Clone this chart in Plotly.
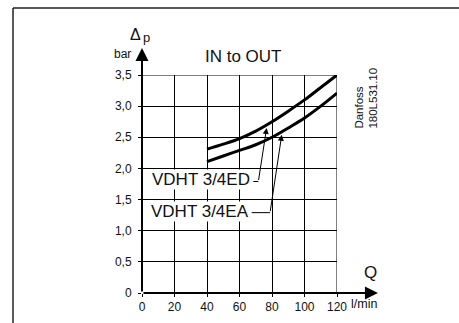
import plotly.graph_objects as go

# Data
q_flow = [40, 50, 60, 70, 80, 90, 100, 110, 120]
dp_ed = [2.31, 2.39, 2.48, 2.60, 2.75, 2.92, 3.10, 3.30, 3.50]
dp_ea = [2.11, 2.20, 2.29, 2.38, 2.50, 2.65, 2.81, 3.00, 3.21]
x_ticks = [0, 20, 40, 60, 80, 100, 120]
y_ticks = [0, 0.5, 1.0, 1.5, 2.0, 2.5, 3.0, 3.5]
y_labels = ["0", "0,5", "1,0", "1,5", "2,0", "2,5", "3,0", "3,5"]

FONT = "Liberation Sans, Arial, sans-serif"

fig = go.Figure()
fig.add_trace(go.Scatter(x=q_flow, y=dp_ed, mode="lines", line=dict(color="black", width=3, shape="spline"),
                         showlegend=False, hoverinfo="skip"))
fig.add_trace(go.Scatter(x=q_flow, y=dp_ea, mode="lines", line=dict(color="black", width=3, shape="spline"),
                         showlegend=False, hoverinfo="skip"))

fig.update_layout(
    width=459, height=323, autosize=False,
    margin=dict(l=142, r=122, t=75, b=30, autoexpand=False),
    paper_bgcolor="white", plot_bgcolor="white",
    font=dict(family=FONT, color="#111", size=12),
    xaxis=dict(range=[0, 120], tickvals=x_ticks, ticktext=[str(v) for v in x_ticks],
               showgrid=True, gridcolor="black", gridwidth=1, zeroline=False, automargin=False,
               ticks="outside", ticklen=3, tickcolor="black", showline=False,
               tickfont=dict(size=12, family=FONT), fixedrange=True),
    yaxis=dict(range=[0, 3.5], tickvals=y_ticks, ticktext=y_labels,
               showgrid=True, gridcolor="black", gridwidth=1, zeroline=False, automargin=False,
               ticks="outside", ticklen=3, tickcolor="black", showline=False, ticklabelstandoff=4,
               tickfont=dict(size=12, family=FONT), fixedrange=True),
)

# Border lines at top/right of grid
fig.add_shape(type="line", xref="x", yref="y", x0=0, x1=120, y0=3.5, y1=3.5, line=dict(color="black", width=1))
fig.add_shape(type="line", xref="x", yref="y", x0=120, x1=120, y0=0, y1=3.5, line=dict(color="black", width=1))

# Outer frame (cut by page)
fig.add_shape(type="line", xref="paper", yref="paper", x0=-0.6615, x1=-0.6615, y0=-0.3, y1=1.307,
              line=dict(color="#222", width=1.5))
fig.add_shape(type="line", xref="paper", yref="paper", x0=-0.6615, x1=1.8, y0=1.307, y1=1.307,
              line=dict(color="#222", width=1.5))

# Axis arrows
fig.add_annotation(xref="paper", yref="paper", x=0, y=1.124, ax=0, ay=245, axref="pixel", ayref="pixel",
                   showarrow=True, arrowhead=2, arrowsize=1.3, arrowwidth=2, arrowcolor="black", text="")
fig.add_annotation(xref="paper", yref="paper", x=1.21, y=0, ax=-236, ay=0, axref="pixel", ayref="pixel",
                   showarrow=True, arrowhead=2, arrowsize=1.3, arrowwidth=2, arrowcolor="black", text="")

# Texts
fig.add_annotation(xref="paper", yref="paper", x=-0.072, y=1.186, text="Δ", showarrow=False,
                   font=dict(size=16, family=FONT), xanchor="left", yanchor="middle")
fig.add_annotation(xref="paper", yref="paper", x=-0.004, y=1.172, text="p", showarrow=False,
                   font=dict(size=13, family=FONT), xanchor="left", yanchor="middle")
fig.add_annotation(xref="paper", yref="paper", x=-0.048, y=1.095, text="bar", showarrow=False,
                   font=dict(size=12, family=FONT), xanchor="right", yanchor="middle")
fig.add_annotation(xref="paper", yref="paper", x=0.518, y=1.087, text="IN to OUT", showarrow=False,
                   font=dict(size=17, family=FONT), xanchor="center", yanchor="middle")
fig.add_annotation(xref="paper", yref="paper", x=1.17, y=0.093, text="Q", showarrow=False,
                   font=dict(size=17, family=FONT), xanchor="center", yanchor="middle")
fig.add_annotation(xref="paper", yref="paper", x=1.062, y=-0.052, text="l/min", showarrow=False,
                   font=dict(size=12.5, family=FONT), xanchor="left", yanchor="middle")
fig.add_annotation(xref="paper", yref="paper", x=1.149, y=0.892, text="Danfoss<br>180L531.10", showarrow=False,
                   textangle=-90, align="left",
                   font=dict(size=11.5, family=FONT), xanchor="center", yanchor="middle")

# Curve labels
fig.add_annotation(xref="x", yref="y", x=5.5, y=1.82, text="VDHT 3/4ED", showarrow=False,
                   font=dict(size=17, family=FONT), xanchor="left", yanchor="middle", bgcolor="white",
                   borderpad=0)
fig.add_annotation(xref="x", yref="y", x=5.0, y=1.31, text="VDHT 3/4EA", showarrow=False,
                   font=dict(size=17, family=FONT), xanchor="left", yanchor="middle", bgcolor="white",
                   borderpad=0)

# Leader lines
fig.add_shape(type="line", xref="x", yref="y", x0=68.5, x1=71.6, y0=1.79, y1=1.79, line=dict(color="black", width=1))
fig.add_annotation(xref="x", yref="y", x=76.7, y=2.65, ax=71.6, ay=1.79, axref="x", ayref="y",
                   showarrow=True, arrowhead=2, arrowsize=1.2, arrowwidth=1, arrowcolor="black", text="")
fig.add_shape(type="line", xref="x", yref="y", x0=67.5, x1=78.8, y0=1.29, y1=1.29, line=dict(color="black", width=1))
fig.add_annotation(xref="x", yref="y", x=86.0, y=2.54, ax=78.8, ay=1.29, axref="x", ayref="y",
                   showarrow=True, arrowhead=2, arrowsize=1.2, arrowwidth=1, arrowcolor="black", text="")

fig.write_html("out.html", config={"displayModeBar": False},
               post_script="document.body.style.margin='0';document.body.style.overflow='hidden';")
